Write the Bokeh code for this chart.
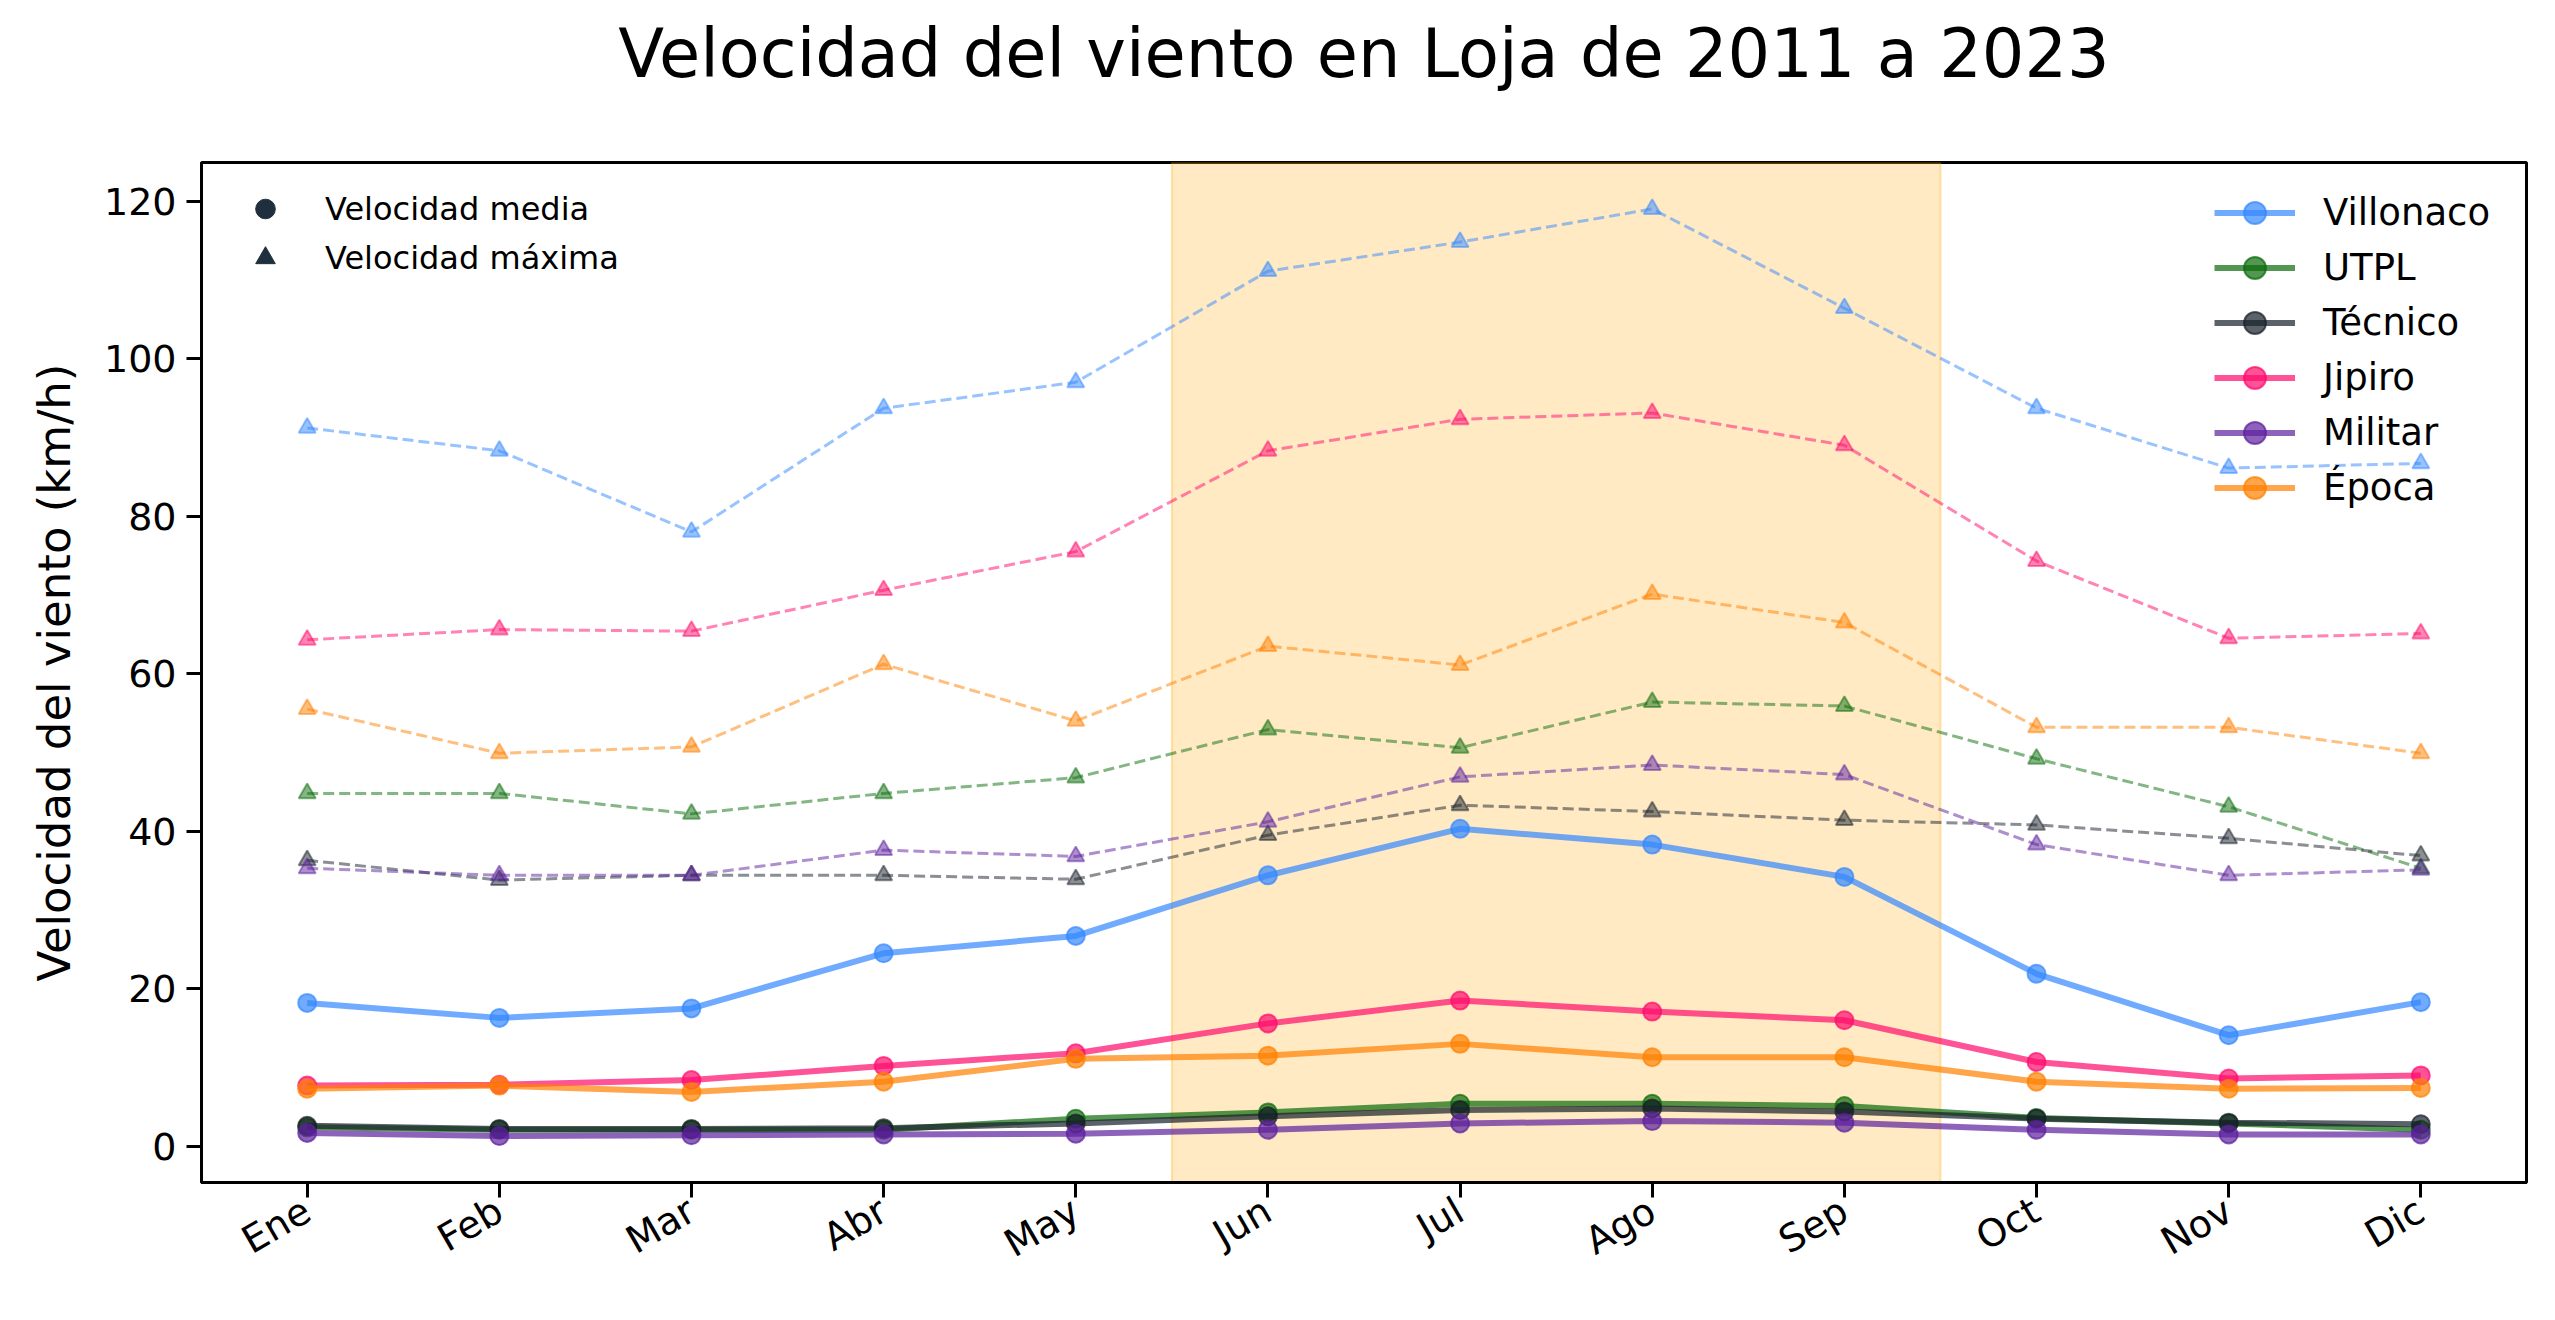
from bokeh.plotting import figure
from bokeh.models import (FixedTicker, BoxAnnotation, Legend, LegendItem, Range1d, ColumnDataSource,
                          Title, LinearAxis, CustomLabelingPolicy)
from bokeh.embed import file_html
from bokeh.resources import INLINE
import math

months = ["Ene", "Feb", "Mar", "Abr", "May", "Jun", "Jul", "Ago", "Sep", "Oct", "Nov", "Dic"]
stations = ["Villonaco", "UTPL", "Técnico", "Jipiro", "Militar", "Época"]
colors = ["#3388ff", "#0a6b0a", "#17202a", "#ff0a6c", "#5c1f9e", "#ff8000"]

villonaco_media = [18.2, 16.3, 17.5, 24.5, 26.7, 34.4, 40.3, 38.3, 34.2, 21.9, 14.1, 18.3]
villonaco_max = [91.2, 88.3, 78.0, 93.7, 97.0, 111.1, 114.8, 119.0, 106.4, 93.7, 86.1, 86.7]
utpl_media = [2.4, 2.1, 2.1, 2.1, 3.5, 4.3, 5.4, 5.4, 5.1, 3.6, 2.9, 2.1]
utpl_max = [44.8, 44.8, 42.2, 44.8, 46.8, 52.9, 50.6, 56.4, 55.9, 49.2, 43.1, 35.3]
tecnico_media = [2.6, 2.2, 2.2, 2.3, 2.9, 3.8, 4.6, 4.8, 4.4, 3.5, 3.0, 2.8]
tecnico_max = [36.3, 33.8, 34.4, 34.4, 33.9, 39.5, 43.3, 42.5, 41.4, 40.8, 39.1, 36.9]
jipiro_media = [7.7, 7.8, 8.4, 10.2, 11.8, 15.6, 18.5, 17.1, 16.0, 10.7, 8.6, 9.0]
jipiro_max = [64.3, 65.6, 65.4, 70.6, 75.5, 88.3, 92.3, 93.1, 89.0, 74.3, 64.5, 65.1]
militar_media = [1.7, 1.3, 1.4, 1.5, 1.6, 2.1, 2.9, 3.2, 3.0, 2.1, 1.5, 1.5]
militar_max = [35.3, 34.4, 34.4, 37.6, 36.8, 41.2, 46.9, 48.4, 47.2, 38.3, 34.4, 35.1]
epoca_media = [7.3, 7.7, 6.9, 8.2, 11.1, 11.5, 13.0, 11.3, 11.3, 8.2, 7.3, 7.4]
epoca_max = [55.5, 49.9, 50.7, 61.2, 54.0, 63.5, 61.1, 70.1, 66.5, 53.2, 53.2, 49.9]

medias = [villonaco_media, utpl_media, tecnico_media, jipiro_media, militar_media, epoca_media]
maximas = [villonaco_max, utpl_max, tecnico_max, jipiro_max, militar_max, epoca_max]

title_text = "Velocidad del viento en Loja de 2011 a 2023"

x = list(range(len(months)))
FONT = "DejaVu Sans"

p = figure(width=2547, height=1312, output_backend="svg", toolbar_location=None,
           x_range=Range1d(-0.55, 11.55), y_range=Range1d(-4.6, 124.9),
           min_border_left=201, min_border_right=21, min_border_top=162, min_border_bottom=130)

p.background_fill_color = "white"
p.border_fill_color = "white"
p.outline_line_color = "black"
p.outline_line_width = 3
p.xgrid.visible = False
p.ygrid.visible = False

xaxis = p.below[0]
yaxis = p.left[0]

# invisible spacer between frame and title: one hidden tick, labels suppressed
hide_all = CustomLabelingPolicy(code="for (const i of Array.from(indices)) { indices.unset(i) }\nreturn indices")
spacer = LinearAxis(ticker=FixedTicker(ticks=[5]), axis_line_color=None, major_tick_line_color=None,
                    minor_tick_line_color=None, major_tick_out=66, major_tick_in=0,
                    major_label_text_font_size="1px", major_label_standoff=0,
                    major_label_policy=hide_all)
p.add_layout(spacer, "above")
p.add_layout(Title(text=title_text, align="center", text_font=FONT, text_font_size="67px",
                   text_font_style="normal", text_color="black", standoff=0), "above")

span = BoxAnnotation(left=4.5, right=8.5, fill_color="#ffa500", fill_alpha=0.23,
                     line_color="#ffa500", line_alpha=0.3, line_width=2, level="underlay")
p.add_layout(span)

legend_items = []
for name, col, med, mx in zip(stations, colors, medias, maximas):
    src = ColumnDataSource(dict(x=x, med=med, mx=mx))
    l1 = p.line("x", "med", source=src, line_color=col, line_alpha=0.7, line_width=6)
    s1 = p.scatter("x", "med", source=src, marker="circle", size=18, fill_color=col, fill_alpha=0.7,
                   line_color=col, line_alpha=0.7, line_width=2)
    p.line("x", "mx", source=src, line_color=col, line_alpha=0.5, line_width=3, line_dash="11 5")
    p.scatter("x", "mx", source=src, marker="triangle", size=17, fill_color=col, fill_alpha=0.5,
              line_color=col, line_alpha=0.5, line_width=2)
    legend_items.append(LegendItem(label=name, renderers=[l1, s1]))

# off-screen single points: only used for the symbol legend
dummy = ColumnDataSource(dict(x=[-100.0], y=[-100.0]))
m1 = p.scatter("x", "y", source=dummy, marker="circle", fill_color="#1f2f3d", line_color="#1f2f3d")
m2 = p.scatter("x", "y", source=dummy, marker="triangle", fill_color="#1f2f3d", line_color="#1f2f3d")

leg_right = Legend(items=legend_items, location=(2013, 667), glyph_width=81, glyph_height=55,
                   label_height=55, spacing=0, padding=0, margin=0, label_standoff=28,
                   label_text_font=FONT, label_text_font_size="37px", label_text_color="black",
                   border_line_alpha=0, background_fill_alpha=0)
leg_left = Legend(items=[LegendItem(label="Velocidad media", renderers=[m1]),
                         LegendItem(label="Velocidad máxima", renderers=[m2])],
                  location=(36, 900), glyph_width=56, glyph_height=49, label_height=49,
                  spacing=0, padding=0, margin=0, label_standoff=32,
                  label_text_font=FONT, label_text_font_size="32px", label_text_color="black",
                  border_line_alpha=0, background_fill_alpha=0)
p.add_layout(leg_right)
p.add_layout(leg_left)

xaxis.ticker = FixedTicker(ticks=x)
xaxis.major_label_overrides = {i: m for i, m in enumerate(months)}
xaxis.major_label_orientation = math.pi / 6
yaxis.ticker = FixedTicker(ticks=[0, 20, 40, 60, 80, 100, 120])
yaxis.axis_label = "Velocidad del viento (km/h)"

for ax in (xaxis, yaxis):
    ax.axis_line_color = "black"
    ax.axis_line_width = 3
    ax.major_tick_line_color = "black"
    ax.major_tick_line_width = 3
    ax.major_tick_out = 15
    ax.major_tick_in = 0
    ax.minor_tick_line_color = None
    ax.major_label_text_font = FONT
    ax.major_label_text_font_size = "38px"
    ax.major_label_text_color = "black"
    ax.major_label_standoff = 10
    ax.axis_label_text_font = FONT
    ax.axis_label_text_font_size = "45px"
    ax.axis_label_text_font_style = "normal"
    ax.axis_label_text_color = "black"
    ax.axis_label_standoff = 20

open("out.html", "w").write(file_html(p, INLINE))
